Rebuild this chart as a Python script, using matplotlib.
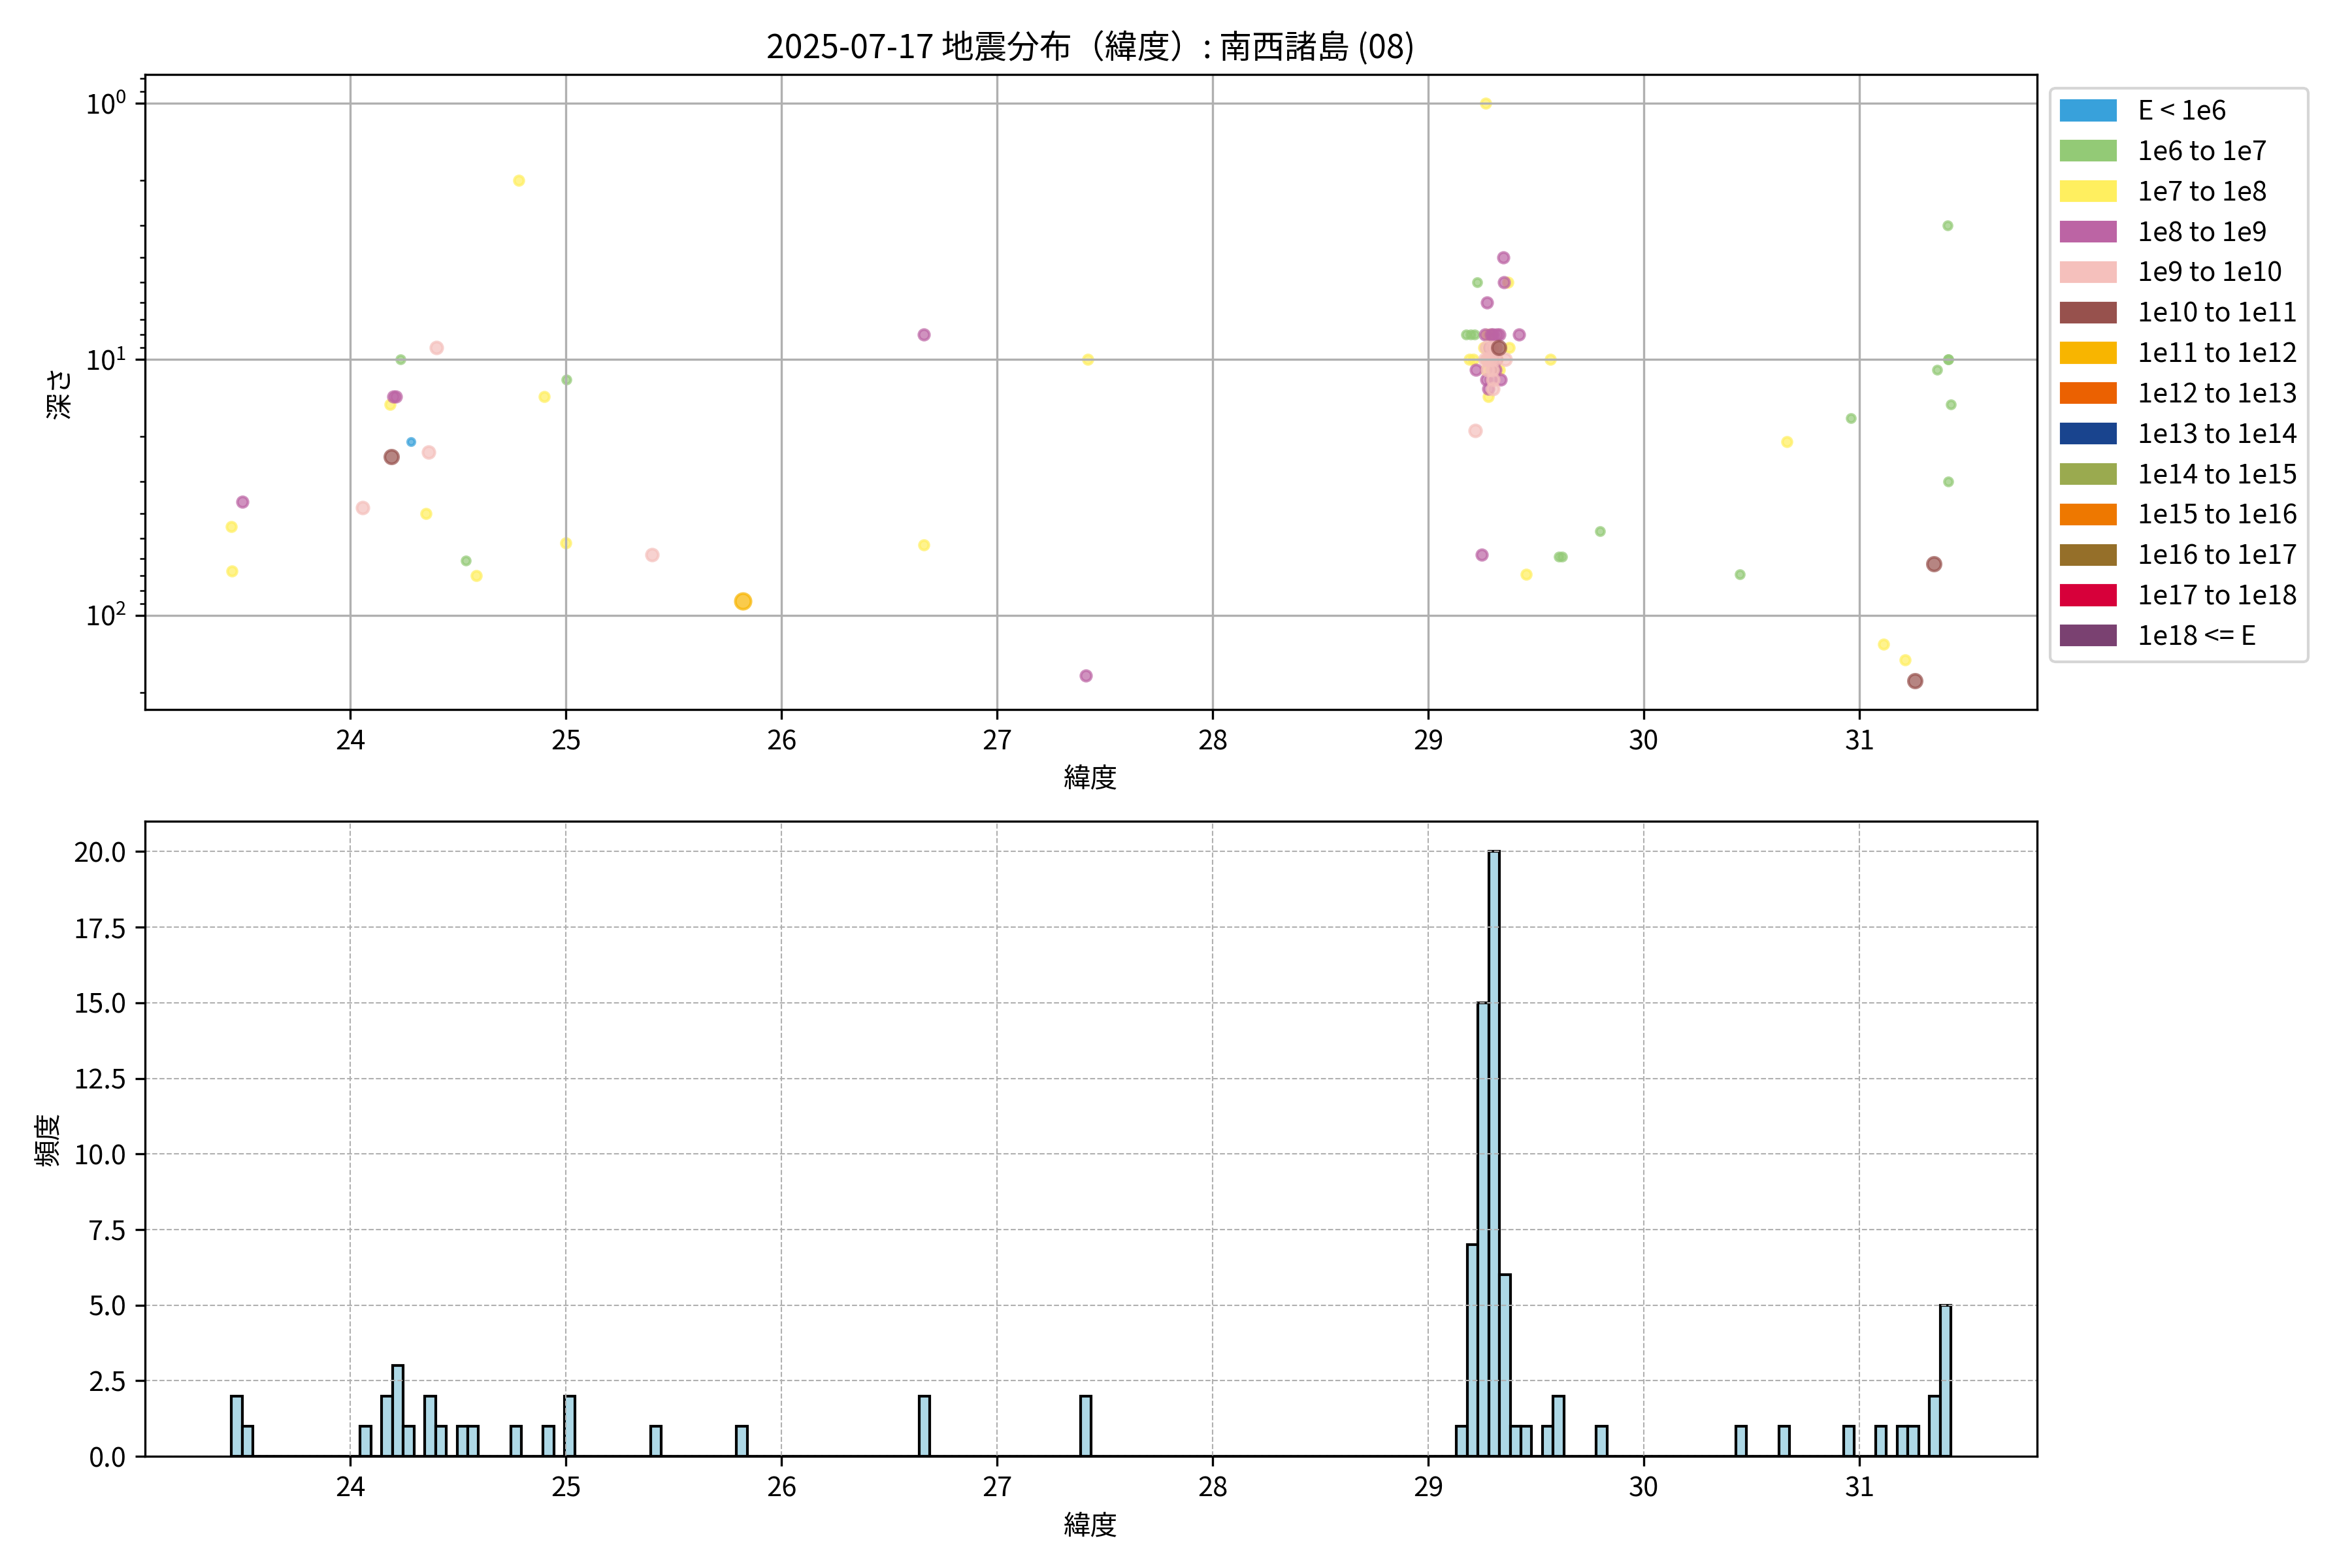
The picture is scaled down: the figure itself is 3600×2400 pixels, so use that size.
import numpy as np
import matplotlib
matplotlib.use("Agg")
import matplotlib.pyplot as plt
from matplotlib.patches import Patch

plt.rcParams['font.family'] = ['Noto Sans CJK JP', 'DejaVu Sans']

# energy classes (legend)
class_labels = [
    "E < 1e6", "1e6 to 1e7", "1e7 to 1e8", "1e8 to 1e9", "1e9 to 1e10",
    "1e10 to 1e11", "1e11 to 1e12", "1e12 to 1e13", "1e13 to 1e14",
    "1e14 to 1e15", "1e15 to 1e16", "1e16 to 1e17", "1e17 to 1e18", "1e18 <= E",
]
class_colors = [
    "#38a1db", "#93ca76", "#ffef5f", "#bc64a4", "#f5c0bc",
    "#97514d", "#f8b500", "#eb6101", "#19448e",
    "#9aaa4f", "#ee7800", "#956f29", "#d7003a", "#7a4171",
]
class_sizes = [7, 9, 12, 15, 19, 25, 33, 38, 43, 48, 53, 58, 63, 68]

# epicentre latitude, depth (km) and energy class of each event
latitude = [
    # south-west part
    23.448, 23.452, 23.50, 24.057, 24.184, 24.19, 24.20, 24.21, 24.233, 24.28,
    24.35, 24.363, 24.40, 24.535, 24.585, 24.78, 24.90, 24.998, 25.003, 25.40,
    25.82, 26.66, 26.66, 27.41, 27.42,
    # cluster near 29.3
    29.176, 29.195, 29.215, 29.225, 29.19, 29.208, 29.22, 29.218,
    29.247, 29.266, 29.273, 29.272, 29.278, 29.262, 29.27, 29.275, 29.265,
    29.27, 29.268, 29.255, 29.276, 29.262, 29.278,
    29.29, 29.30, 29.318, 29.293, 29.326, 29.29, 29.296, 29.291, 29.299,
    29.285, 29.31, 29.305, 29.315, 29.31, 29.32, 29.30, 29.284, 29.328,
    29.295, 29.328,
    29.348, 29.351, 29.37, 29.356, 29.336, 29.375,
    # north-east part
    29.42, 29.452, 29.565, 29.62, 29.605, 29.797, 30.445, 30.661, 30.96,
    31.11, 31.21, 31.257, 31.344, 31.36, 31.407, 31.41, 31.423, 31.41, 31.412,
]
depth = [
    45, 67, 36, 38, 15, 24, 14, 14, 10, 21,
    40, 23, 9, 61, 70, 2.0, 14, 52, 12, 58,
    88, 8, 53, 172, 10,
    8, 8, 8, 5, 10, 10, 11, 19,
    58, 1.0, 6, 8, 14, 8, 9, 10, 11,
    12, 10, 9, 11, 10, 13,
    8, 8, 8, 9, 9, 10, 11, 12, 13,
    8, 9, 10, 10, 11, 10, 12, 9, 8,
    10, 11,
    4, 5, 5, 10, 12, 9,
    8, 69, 10, 59, 59, 47, 69, 21, 17,
    130, 149, 180, 63, 11, 3.0, 10, 15, 30, 10,
]
energy_class = [
    2, 2, 3, 4, 2, 5, 3, 3, 1, 0,
    2, 4, 4, 1, 2, 2, 2, 2, 1, 4,
    6, 3, 2, 3, 2,
    1, 1, 1, 1, 2, 2, 3, 4,
    3, 2, 3, 2, 2, 3, 4, 4, 2,
    3, 2, 2, 4, 4, 3,
    3, 3, 3, 4, 5, 4, 4, 3, 4,
    2, 4, 4, 3, 3, 2, 4, 3, 3,
    2, 2,
    3, 3, 2, 4, 3, 2,
    3, 2, 2, 1, 1, 1, 1, 2, 1,
    2, 2, 5, 5, 1, 1, 1, 1, 1, 1,
]

lat = np.array(latitude)
dep = np.array(depth)
cls = np.array(energy_class)

fig, (ax1, ax2) = plt.subplots(2, 1, figsize=(12, 8))
fig.subplots_adjust(left=0.0618, right=0.866, bottom=0.0712, top=0.9525, hspace=0.176)

# scatter: depth vs latitude, coloured by energy class
for k in range(len(class_labels)):
    m = cls == k
    if not m.any():
        continue
    ax1.scatter(lat[m], dep[m], s=class_sizes[k], color=class_colors[k], alpha=0.7)
ax1.set_yscale('log')
ax1.invert_yaxis()
ax1.set_xlabel('緯度')
ax1.set_ylabel('深さ')
ax1.set_title('2025-07-17 地震分布（緯度）: 南西諸島 (08)')
ax1.grid(True)

handles = [Patch(color=c, label=l) for c, l in zip(class_colors, class_labels)]
ax1.legend(handles=handles, loc='upper left', bbox_to_anchor=(1.0, 1.0))

# histogram of latitude
ax2.hist(lat, bins=160, color='lightblue', edgecolor='black')
ax2.set_xlim(ax1.get_xlim())
ax2.set_xlabel('緯度')
ax2.set_ylabel('頻度')
ax2.grid(True, linestyle='--', linewidth=0.5)

fig.savefig('out.png', dpi=300)
